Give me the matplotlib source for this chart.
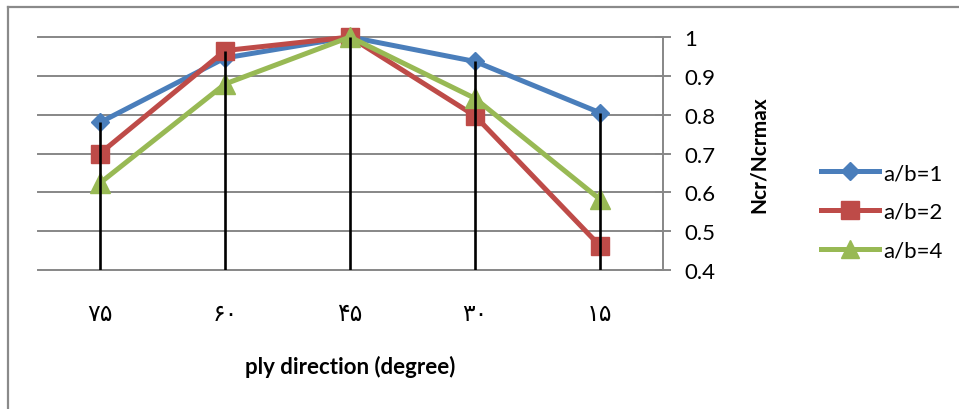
import matplotlib
matplotlib.use("Agg")
import matplotlib.pyplot as plt
from matplotlib.lines import Line2D
import numpy as np

plt.rcParams['font.family'] = ['Lato', 'DejaVu Sans']

categories = ['۷۵', '۶۰', '۴۵', '۳۰', '۱۵']
ab1 = [0.78, 0.946, 1.0, 0.937, 0.805]
ab2 = [0.70, 0.965, 1.0, 0.797, 0.462]
ab4 = [0.624, 0.879, 1.0, 0.842, 0.582]
series_labels = ['a/b=1', 'a/b=2', 'a/b=4']
y_ticks = [0.4, 0.5, 0.6, 0.7, 0.8, 0.9, 1.0]
y_tick_labels = ['0.4', '0.5', '0.6', '0.7', '0.8', '0.9', '1']

W, H = 959, 410
fig = plt.figure(figsize=(W / 100, H / 100), dpi=100)
ax = fig.add_axes([37.5 / W, 1 - 271 / H, 625 / W, 233 / H])

x = np.arange(len(categories))
grid_col = '#878787'

ax.set_ylim(0.4, 1.0)
ax.set_xlim(-0.5, len(categories) - 0.5)

for yv in y_ticks:
    ax.axhline(yv, color=grid_col, lw=1.4, zorder=1, clip_on=False)

styles = [
    dict(color='#4A7EBB', marker='D', ms=9.5),
    dict(color='#BE4B48', marker='s', ms=13),
    dict(color='#98B954', marker='^', ms=14),
]
for vals, lab, st in zip([ab1, ab2, ab4], series_labels, styles):
    ax.plot(x, vals, color=st['color'], lw=3.6, marker=st['marker'],
            ms=st['ms'], mec=st['color'], mfc=st['color'], label=lab,
            zorder=3, clip_on=False)

# drop lines from the highest series value down to the category axis
tops = np.max(np.vstack([ab1, ab2, ab4]), axis=0)
ax.vlines(x, 0.4, tops, color='black', lw=1.9, zorder=4)

for s in ['left', 'top', 'bottom']:
    ax.spines[s].set_visible(False)
ax.spines['right'].set_color(grid_col)
ax.spines['right'].set_linewidth(1.4)

ax.yaxis.tick_right()
ax.yaxis.set_label_position('right')
ax.set_yticks(y_ticks)
ax.set_yticklabels(y_tick_labels, fontsize=16)
ax.tick_params(axis='y', direction='inout', length=11, width=1.4,
               color=grid_col, pad=10)
ax.set_xticks(x)
ax.set_xticklabels(categories, fontsize=17, family=['DejaVu Sans'])
ax.tick_params(axis='x', length=0, pad=22)

ax.set_ylabel('Ncr/Ncrmax', fontsize=15, fontweight='bold', labelpad=24)
ax.set_xlabel('ply direction (degree)', fontsize=16, fontweight='bold',
              labelpad=22)

handles = [Line2D([0], [0], color=st['color'], lw=3.6, marker=st['marker'],
                  ms=st['ms'] * 0.95, mec=st['color'], mfc=st['color'])
           for st in styles]
fig.legend(handles, series_labels, loc='center left',
           bbox_to_anchor=(812 / W, 1 - 213 / H), frameon=False,
           fontsize=16, handlelength=2.6, handletextpad=0.2,
           labelspacing=0.85, borderaxespad=0)

# chart frame
fig.add_artist(Line2D([8 / W, 8 / W], [0, 1 - 8 / H], color='#8a8a8a',
                      lw=1.6, transform=fig.transFigure))
fig.add_artist(Line2D([8 / W, 1], [1 - 8 / H, 1 - 8 / H], color='#8a8a8a',
                      lw=1.6, transform=fig.transFigure))

fig.savefig('out.png', dpi=100)
